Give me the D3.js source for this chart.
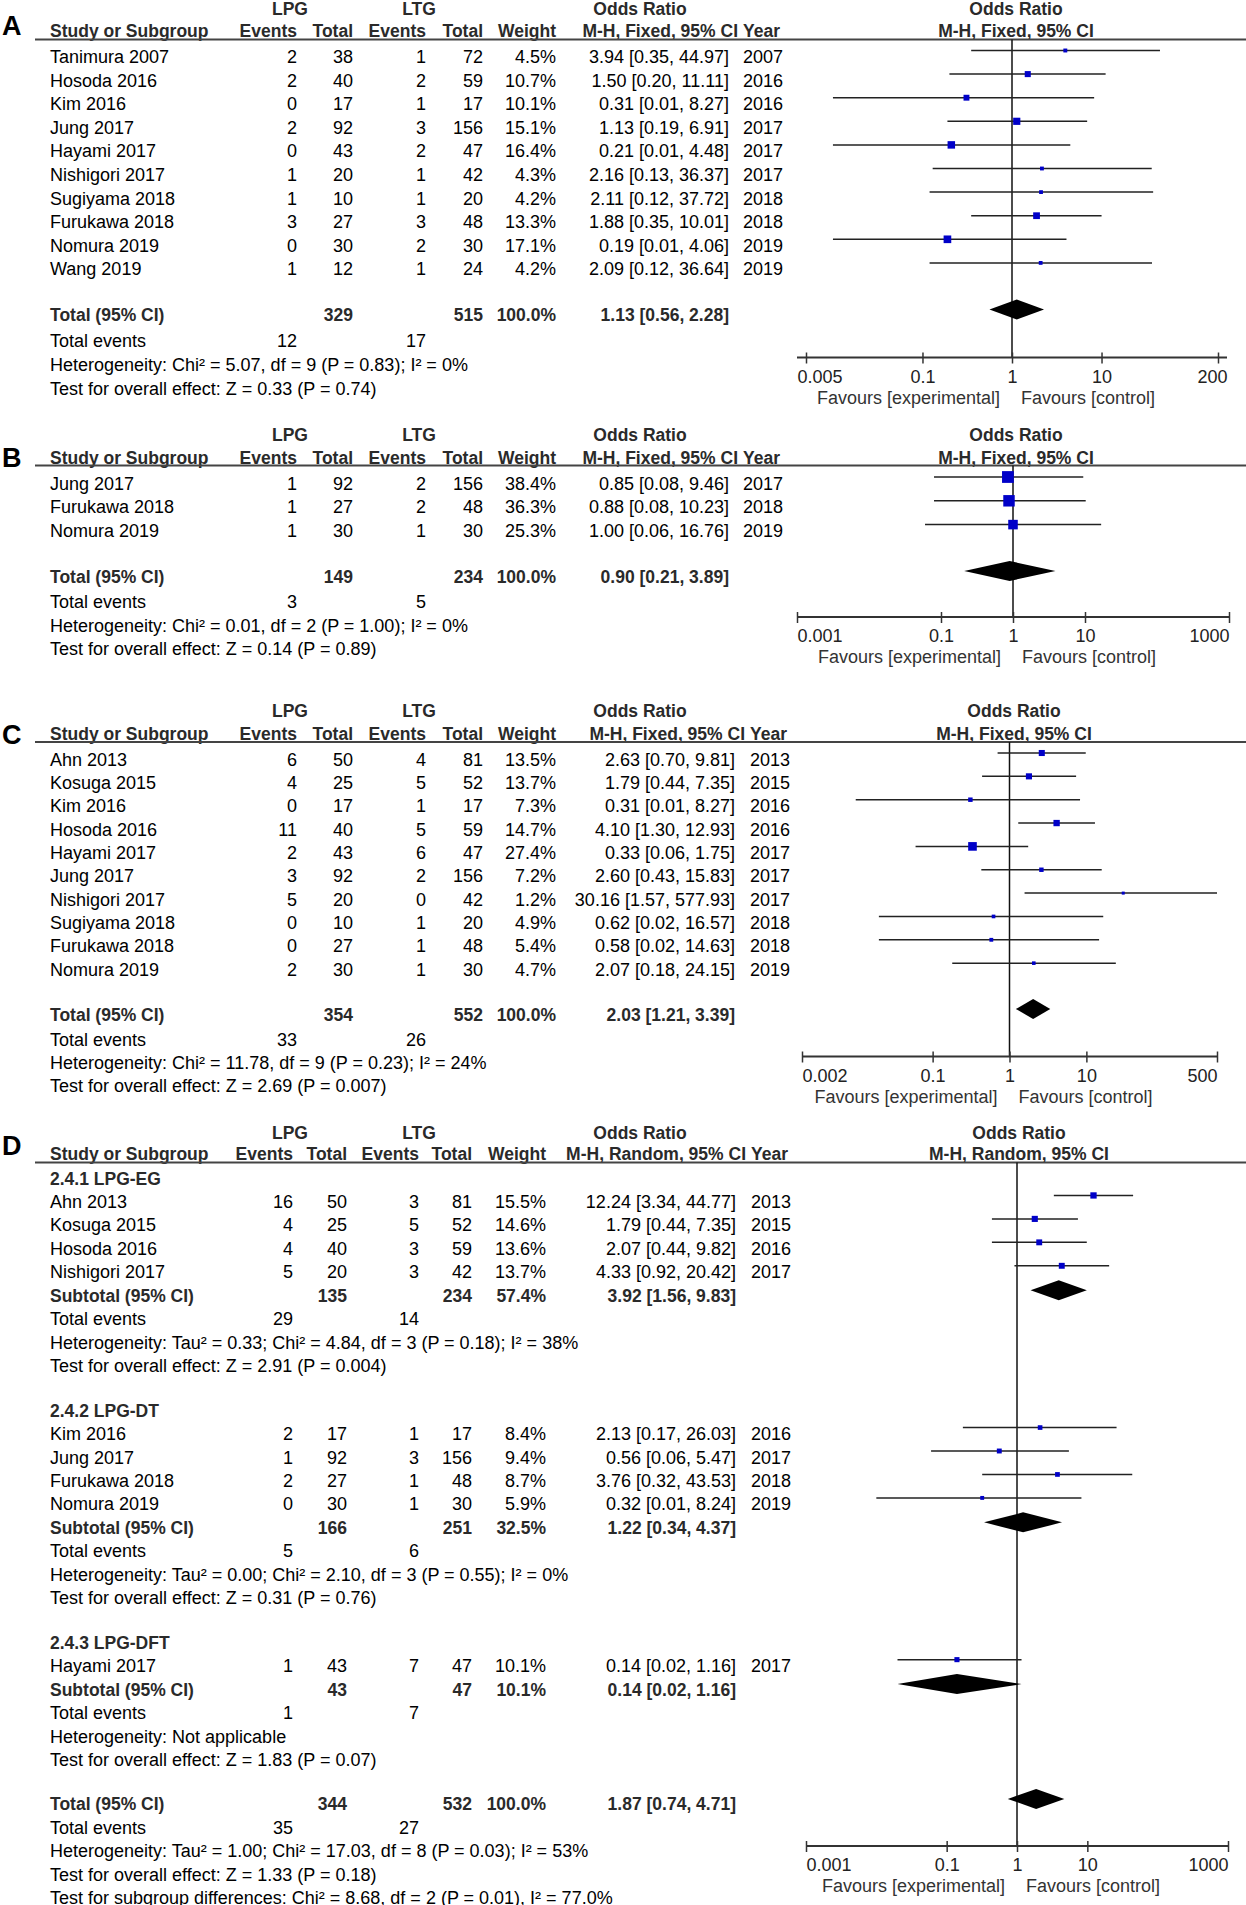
<!DOCTYPE html>
<html><head><meta charset="utf-8">
<script src="https://cdn.jsdelivr.net/npm/d3@7"></script>
<style>html,body{margin:0;padding:0;background:#fff;} svg{display:block;}</style>
</head><body>
<script>
// ================= DATA =================
// ---- Panel A ----
const studiesA = ["Tanimura 2007","Hosoda 2016","Kim 2016","Jung 2017","Hayami 2017","Nishigori 2017","Sugiyama 2018","Furukawa 2018","Nomura 2019","Wang 2019"];
const lpgEventsA = [2,2,0,2,0,1,1,3,0,1];
const lpgTotalA  = [38,40,17,92,43,20,10,27,30,12];
const ltgEventsA = [1,2,1,3,2,1,1,3,2,1];
const ltgTotalA  = [72,59,17,156,47,42,20,48,30,24];
const weightA = [4.5,10.7,10.1,15.1,16.4,4.3,4.2,13.3,17.1,4.2];
const orA    = [3.94,1.50,0.31,1.13,0.21,2.16,2.11,1.88,0.19,2.09];
const lowerA = [0.35,0.20,0.01,0.19,0.01,0.13,0.12,0.35,0.01,0.12];
const upperA = [44.97,11.11,8.27,6.91,4.48,36.37,37.72,10.01,4.06,36.64];
const yearA  = [2007,2016,2016,2017,2017,2017,2018,2018,2019,2019];
const totalA = [329, 515, 100.0, 1.13, 0.56, 2.28];   // LPG total, LTG total, weight, OR, lower, upper
const totalEventsA = [12, 17];
const hetA  = "Heterogeneity: Chi² = 5.07, df = 9 (P = 0.83); I² = 0%";
const testA = "Test for overall effect: Z = 0.33 (P = 0.74)";
const ticksA = [0.005, 0.1, 1, 10, 200];
const tickLabelsA = ["0.005","0.1","1","10","200"];

// ---- Panel B ----
const studiesB = ["Jung 2017","Furukawa 2018","Nomura 2019"];
const lpgEventsB = [1,1,1];
const lpgTotalB  = [92,27,30];
const ltgEventsB = [2,2,1];
const ltgTotalB  = [156,48,30];
const weightB = [38.4,36.3,25.3];
const orB    = [0.85,0.88,1.00];
const lowerB = [0.08,0.08,0.06];
const upperB = [9.46,10.23,16.76];
const yearB  = [2017,2018,2019];
const totalB = [149, 234, 100.0, 0.90, 0.21, 3.89];
const totalEventsB = [3, 5];
const hetB  = "Heterogeneity: Chi² = 0.01, df = 2 (P = 1.00); I² = 0%";
const testB = "Test for overall effect: Z = 0.14 (P = 0.89)";
const ticksB = [0.001, 0.1, 1, 10, 1000];
const tickLabelsB = ["0.001","0.1","1","10","1000"];

// ---- Panel C ----
const studiesC = ["Ahn 2013","Kosuga 2015","Kim 2016","Hosoda 2016","Hayami 2017","Jung 2017","Nishigori 2017","Sugiyama 2018","Furukawa 2018","Nomura 2019"];
const lpgEventsC = [6,4,0,11,2,3,5,0,0,2];
const lpgTotalC  = [50,25,17,40,43,92,20,10,27,30];
const ltgEventsC = [4,5,1,5,6,2,0,1,1,1];
const ltgTotalC  = [81,52,17,59,47,156,42,20,48,30];
const weightC = [13.5,13.7,7.3,14.7,27.4,7.2,1.2,4.9,5.4,4.7];
const orC    = [2.63,1.79,0.31,4.10,0.33,2.60,30.16,0.62,0.58,2.07];
const lowerC = [0.70,0.44,0.01,1.30,0.06,0.43,1.57,0.02,0.02,0.18];
const upperC = [9.81,7.35,8.27,12.93,1.75,15.83,577.93,16.57,14.63,24.15];
const yearC  = [2013,2015,2016,2016,2017,2017,2017,2018,2018,2019];
const totalC = [354, 552, 100.0, 2.03, 1.21, 3.39];
const totalEventsC = [33, 26];
const hetC  = "Heterogeneity: Chi² = 11.78, df = 9 (P = 0.23); I² = 24%";
const testC = "Test for overall effect: Z = 2.69 (P = 0.007)";
const ticksC = [0.002, 0.1, 1, 10, 500];
const tickLabelsC = ["0.002","0.1","1","10","500"];

// ---- Panel D (subgroups) ----
const studiesD = ["Ahn 2013","Kosuga 2015","Hosoda 2016","Nishigori 2017","Kim 2016","Jung 2017","Furukawa 2018","Nomura 2019","Hayami 2017"];
const groupD     = [0,0,0,0,1,1,1,1,2];
const lpgEventsD = [16,4,4,5,2,1,2,0,1];
const lpgTotalD  = [50,25,40,20,17,92,27,30,43];
const ltgEventsD = [3,5,3,3,1,3,1,1,7];
const ltgTotalD  = [81,52,59,42,17,156,48,30,47];
const weightD = [15.5,14.6,13.6,13.7,8.4,9.4,8.7,5.9,10.1];
const orD    = [12.24,1.79,2.07,4.33,2.13,0.56,3.76,0.32,0.14];
const lowerD = [3.34,0.44,0.44,0.92,0.17,0.06,0.32,0.01,0.02];
const upperD = [44.77,7.35,9.82,20.42,26.03,5.47,43.53,8.24,1.16];
const yearD  = [2013,2015,2016,2017,2016,2017,2018,2019,2017];
const subgroupNamesD = ["2.4.1 LPG-EG","2.4.2 LPG-DT","2.4.3 LPG-DFT"];
const subLpgTotalD = [135,166,43];
const subLtgTotalD = [234,251,47];
const subWeightD   = [57.4,32.5,10.1];
const subOrD    = [3.92,1.22,0.14];
const subLowerD = [1.56,0.34,0.02];
const subUpperD = [9.83,4.37,1.16];
const subLpgEventsD = [29,5,1];
const subLtgEventsD = [14,6,7];
const subHetD = ["Heterogeneity: Tau² = 0.33; Chi² = 4.84, df = 3 (P = 0.18); I² = 38%",
                 "Heterogeneity: Tau² = 0.00; Chi² = 2.10, df = 3 (P = 0.55); I² = 0%",
                 "Heterogeneity: Not applicable"];
const subTestD = ["Test for overall effect: Z = 2.91 (P = 0.004)",
                  "Test for overall effect: Z = 0.31 (P = 0.76)",
                  "Test for overall effect: Z = 1.83 (P = 0.07)"];
const totalD = [344, 532, 100.0, 1.87, 0.74, 4.71];
const totalEventsD = [35, 27];
const hetD  = "Heterogeneity: Tau² = 1.00; Chi² = 17.03, df = 8 (P = 0.03); I² = 53%";
const testD = "Test for overall effect: Z = 1.33 (P = 0.18)";
const subDiffD = "Test for subgroup differences: Chi² = 8.68, df = 2 (P = 0.01), I² = 77.0%";
const ticksD = [0.001, 0.1, 1, 10, 1000];
const tickLabelsD = ["0.001","0.1","1","10","1000"];

// ================= DRAWING =================
const FONT = '"Liberation Sans", Arial, Helvetica, sans-serif';
const W = 1246, H = 1905;
const svg = d3.select("body").append("svg")
  .attr("width", W).attr("height", H)
  .style("font-family", FONT).style("font-size", "18px");
svg.append("rect").attr("width", W).attr("height", H).attr("fill", "#fff");

const BOLD_FILL = "#2a2a2a";
const BL = 6.5;   // text baseline below row centre
const MK = -6;    // plot marks above row centre

function T(x, y, s, o = {}) {
  const t = svg.append("text").attr("x", x).attr("y", y).text(s)
    .attr("text-anchor", o.anchor || "start")
    .attr("fill", o.fill || (o.bold ? BOLD_FILL : "#000"));
  if (o.bold) t.attr("font-weight", "bold").attr("font-size", o.size || "17.5px");
  else if (o.size) t.attr("font-size", o.size);
  return t;
}
const ciTxt = (or, lo, hi) => `${or.toFixed(2)} [${lo.toFixed(2)}, ${hi.toFixed(2)}]`;
const pct = w => w.toFixed(1) + "%";

function drawPanel(P) {
  const c = P.cols;
  const x = d3.scaleLog().domain([P.ticks[0], P.ticks[P.ticks.length - 1]]).range(P.range);
  const [dmin, dmax] = x.domain();
  const cl = v => x(Math.max(dmin, Math.min(dmax, v)));

  // letter
  T(2, P.letterY, P.letter, {bold: true, size: "27px", fill: "#000"});
  // group headers
  const gy = P.grpY + BL;
  T(290, gy, "LPG", {anchor: "middle", bold: true});
  T(419, gy, "LTG", {anchor: "middle", bold: true});
  T(P.orCx, gy, "Odds Ratio", {anchor: "middle", bold: true});
  T(P.plotCx, gy, "Odds Ratio", {anchor: "middle", bold: true});
  // column headers
  const hy = P.hdrY + BL;
  T(50, hy, "Study or Subgroup", {bold: true});
  T(c.ev1, hy, "Events", {anchor: "end", bold: true});
  T(c.tot1, hy, "Total", {anchor: "end", bold: true});
  T(c.ev2, hy, "Events", {anchor: "end", bold: true});
  T(c.tot2, hy, "Total", {anchor: "end", bold: true});
  T(c.w, hy, "Weight", {anchor: "end", bold: true});
  T(c.year - 5, hy, `M-H, ${P.method}, 95% CI`, {anchor: "end", bold: true});
  T(c.year, hy, "Year", {bold: true});
  T(P.plotCx, hy, `M-H, ${P.method}, 95% CI`, {anchor: "middle", bold: true});
  svg.append("line").attr("x1", 35).attr("x2", W).attr("y1", P.lineY).attr("y2", P.lineY)
    .attr("stroke", "#444").attr("stroke-width", 2);

  // null line
  svg.append("line").attr("x1", x(1)).attr("x2", x(1)).attr("y1", P.lineY).attr("y2", P.axisY)
    .attr("stroke", "#111").attr("stroke-width", 1.5);

  P.rows.forEach(r => {
    const ty = r.y + BL, my = r.y + MK;
    if (r.type === "study") {
      T(50, ty, r.name);
      T(c.ev1, ty, r.e1, {anchor: "end"});
      T(c.tot1, ty, r.n1, {anchor: "end"});
      T(c.ev2, ty, r.e2, {anchor: "end"});
      T(c.tot2, ty, r.n2, {anchor: "end"});
      T(c.w, ty, pct(r.w), {anchor: "end"});
      T(c.ci, ty, ciTxt(r.or, r.lo, r.hi), {anchor: "end"});
      T(c.year, ty, r.year);
      svg.append("line").attr("x1", cl(r.lo)).attr("x2", cl(r.hi)).attr("y1", my).attr("y2", my)
        .attr("stroke", "#222").attr("stroke-width", 1.5);
      const s = Math.max(3, P.k * Math.sqrt(r.w));
      svg.append("rect").attr("x", x(r.or) - s / 2).attr("y", my - s / 2)
        .attr("width", s).attr("height", s).attr("fill", "#0000c8");
    } else if (r.type === "total") {
      T(50, ty, r.label, {bold: true});
      T(c.tot1, ty, r.n1, {anchor: "end", bold: true});
      T(c.tot2, ty, r.n2, {anchor: "end", bold: true});
      T(c.w, ty, pct(r.w), {anchor: "end", bold: true});
      T(c.ci, ty, ciTxt(r.or, r.lo, r.hi), {anchor: "end", bold: true});
      const dy = r.y - 5;
      svg.append("path")
        .attr("d", `M${cl(r.lo)},${dy}L${x(r.or)},${dy - 10}L${cl(r.hi)},${dy}L${x(r.or)},${dy + 10}Z`)
        .attr("fill", "#000");
    } else if (r.type === "events") {
      T(50, ty, "Total events");
      T(c.ev1, ty, r.e1, {anchor: "end"});
      T(c.ev2, ty, r.e2, {anchor: "end"});
    } else if (r.type === "text") {
      T(50, ty, r.text);
    } else if (r.type === "heading") {
      T(50, ty, r.text, {bold: true});
    }
  });

  // axis
  const n = P.ticks.length;
  const ax = d3.axisBottom(x).tickValues(P.ticks).tickFormat((d, i) => P.tickLabels[i]).tickSizeOuter(0);
  const g = svg.append("g").attr("transform", `translate(0,${P.axisY})`).call(ax);
  g.attr("font-family", FONT).attr("font-size", 18);
  g.select(".domain").attr("stroke", "#333").attr("stroke-width", 2)
    .attr("d", `M${P.range[0] - P.ext},0H${P.range[1] + P.ext}`);
  g.selectAll(".tick line").attr("y1", -5).attr("y2", 6).attr("stroke", "#333").attr("stroke-width", 1.5);
  g.selectAll(".tick text").attr("y", 25).attr("dy", null).attr("fill", "#222")
    .attr("text-anchor", (d, i) => i === 0 ? "start" : (i === n - 1 ? "end" : "middle"))
    .attr("dx", (d, i) => i === 0 ? -P.ext : (i === n - 1 ? P.ext : 0));
  T(x(1) - 12, P.axisY + 46, "Favours [experimental]", {anchor: "end", fill: "#333"});
  T(x(1) + 9, P.axisY + 46, "Favours [control]", {fill: "#333"});
}

function studyRows(names, e1, n1, e2, n2, w, or, lo, hi, yr, y0, step) {
  return names.map((nm, i) => ({type: "study", y: y0 + i * step, name: nm, e1: e1[i], n1: n1[i],
    e2: e2[i], n2: n2[i], w: w[i], or: or[i], lo: lo[i], hi: hi[i], year: yr[i]}));
}
function footRows(tot, ev, het, test, ys) {
  return [
    {type: "total", y: ys[0], label: "Total (95% CI)", n1: tot[0], n2: tot[1], w: tot[2], or: tot[3], lo: tot[4], hi: tot[5]},
    {type: "events", y: ys[1], e1: ev[0], e2: ev[1]},
    {type: "text", y: ys[2], text: het},
    {type: "text", y: ys[3], text: test}
  ];
}

const colsA = {ev1: 297, tot1: 353, ev2: 426, tot2: 483, w: 556, ci: 729, year: 743};
const colsC = {ev1: 297, tot1: 353, ev2: 426, tot2: 483, w: 556, ci: 735, year: 750};
const colsD = {ev1: 293, tot1: 347, ev2: 419, tot2: 472, w: 546, ci: 736, year: 751};

// Panel A
drawPanel({
  letter: "A", letterY: 35, grpY: 8, hdrY: 30, lineY: 39.5, axisY: 357.5,
  cols: colsA, orCx: 640, plotCx: 1016, method: "Fixed",
  ticks: ticksA, tickLabels: tickLabelsA, range: [806, 1218], ext: 9, k: 1.85,
  rows: studyRows(studiesA, lpgEventsA, lpgTotalA, ltgEventsA, ltgTotalA, weightA, orA, lowerA, upperA, yearA, 56.5, 23.6)
    .concat(footRows(totalA, totalEventsA, hetA, testA, [314.5, 340.5, 364, 388]))
});

// Panel B
drawPanel({
  letter: "B", letterY: 467, grpY: 434, hdrY: 457.5, lineY: 465.5, axisY: 617,
  cols: colsA, orCx: 640, plotCx: 1016, method: "Fixed",
  ticks: ticksB, tickLabels: tickLabelsB, range: [797, 1229], ext: 0, k: 1.9,
  rows: studyRows(studiesB, lpgEventsB, lpgTotalB, ltgEventsB, ltgTotalB, weightB, orB, lowerB, upperB, yearB, 483, 23.8)
    .concat(footRows(totalB, totalEventsB, hetB, testB, [576, 601, 625, 648.5]))
});

// Panel C
drawPanel({
  letter: "C", letterY: 744, grpY: 710, hdrY: 733.5, lineY: 742, axisY: 1056.5,
  cols: colsC, orCx: 640, plotCx: 1014, method: "Fixed",
  ticks: ticksC, tickLabels: tickLabelsC, range: [802, 1217], ext: 0, k: 1.65,
  rows: studyRows(studiesC, lpgEventsC, lpgTotalC, ltgEventsC, ltgTotalC, weightC, orC, lowerC, upperC, yearC, 759, 23.35)
    .concat(footRows(totalC, totalEventsC, hetC, testC, [1014, 1039.5, 1062.6, 1085.7]))
});

// Panel D rows with subgroups
(function () {
  const rows = [];
  const step = 23.45, gap = 44.5;
  let y = 1178;
  subgroupNamesD.forEach((sg, gi) => {
    if (gi > 0) y += gap;
    rows.push({type: "heading", y, text: sg});
    groupD.forEach((gg, i) => {
      if (gg !== gi) return;
      y += step;
      rows.push({type: "study", y, name: studiesD[i], e1: lpgEventsD[i], n1: lpgTotalD[i], e2: ltgEventsD[i],
        n2: ltgTotalD[i], w: weightD[i], or: orD[i], lo: lowerD[i], hi: upperD[i], year: yearD[i]});
    });
    y += step;
    rows.push({type: "total", y, label: "Subtotal (95% CI)", n1: subLpgTotalD[gi], n2: subLtgTotalD[gi],
      w: subWeightD[gi], or: subOrD[gi], lo: subLowerD[gi], hi: subUpperD[gi]});
    y += step; rows.push({type: "events", y, e1: subLpgEventsD[gi], e2: subLtgEventsD[gi]});
    y += step; rows.push({type: "text", y, text: subHetD[gi]});
    y += step; rows.push({type: "text", y, text: subTestD[gi]});
  });
  y += gap;
  const f = footRows(totalD, totalEventsD, hetD, testD, [y, y + step, y + 2 * step, y + 3 * step]);
  f.forEach(r => rows.push(r));
  rows.push({type: "text", y: y + 4 * step, text: subDiffD});

  drawPanel({
    letter: "D", letterY: 1155, grpY: 1132, hdrY: 1153.7, lineY: 1162.5, axisY: 1846,
    cols: colsD, orCx: 640, plotCx: 1019, method: "Random",
    ticks: ticksD, tickLabels: tickLabelsD, range: [806, 1228], ext: 0, k: 1.6,
    rows
  });
})();
</script>
</body></html>
